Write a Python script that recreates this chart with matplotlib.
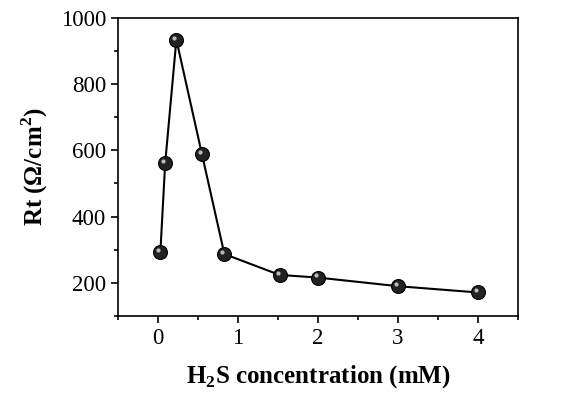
import matplotlib.pyplot as plt
import matplotlib.transforms as mtransforms
from matplotlib.ticker import MultipleLocator

plt.rcParams['font.family'] = ['Liberation Serif', 'DejaVu Serif']
plt.rcParams['mathtext.fontset'] = 'custom'
plt.rcParams['mathtext.rm'] = 'Liberation Serif'
plt.rcParams['mathtext.bf'] = 'Liberation Serif:bold'

conc = [0.03, 0.09, 0.23, 0.55, 0.83, 1.52, 2.0, 3.0, 4.0]
rt = [293, 561, 934, 588, 287, 224, 216, 190, 171]

fig = plt.figure(figsize=(5.84, 3.96), dpi=100)
ax = fig.add_axes([0.202, 0.202, 0.685, 0.753])

ax.plot(conc, rt, '-', color='black', lw=1.5, zorder=2)
ax.plot(conc, rt, 'o', ms=10, mfc='#222222', mec='black', mew=0.8, zorder=3)
# little highlight on each ball
hl = mtransforms.offset_copy(ax.transData, fig=fig, x=-1.5, y=1.5, units='points')
ax.plot(conc, rt, 'o', ms=3, mfc='#bbbbbb', mec='none', transform=hl, zorder=4)

ax.set_xlim(-0.5, 4.5)
ax.set_ylim(100, 1000)
ax.xaxis.set_major_locator(MultipleLocator(1))
ax.xaxis.set_minor_locator(MultipleLocator(0.5))
ax.yaxis.set_major_locator(MultipleLocator(200))
ax.yaxis.set_minor_locator(MultipleLocator(100))
ax.tick_params(which='both', direction='out', width=1.2, labelsize=16.5, top=False, right=False)
ax.tick_params(which='major', length=5)
ax.tick_params(which='minor', length=3)
for s in ax.spines.values():
    s.set_linewidth(1.2)

ax.set_xlabel(r'H$_\mathbf{2}$S concentration (mM)', fontsize=18, fontweight='bold', labelpad=10)
ax.set_ylabel(r'Rt ($\mathbf{\Omega}$/cm$^\mathbf{2}$)', fontsize=18, fontweight='bold', labelpad=8)

fig.savefig('out.png', dpi=100)
